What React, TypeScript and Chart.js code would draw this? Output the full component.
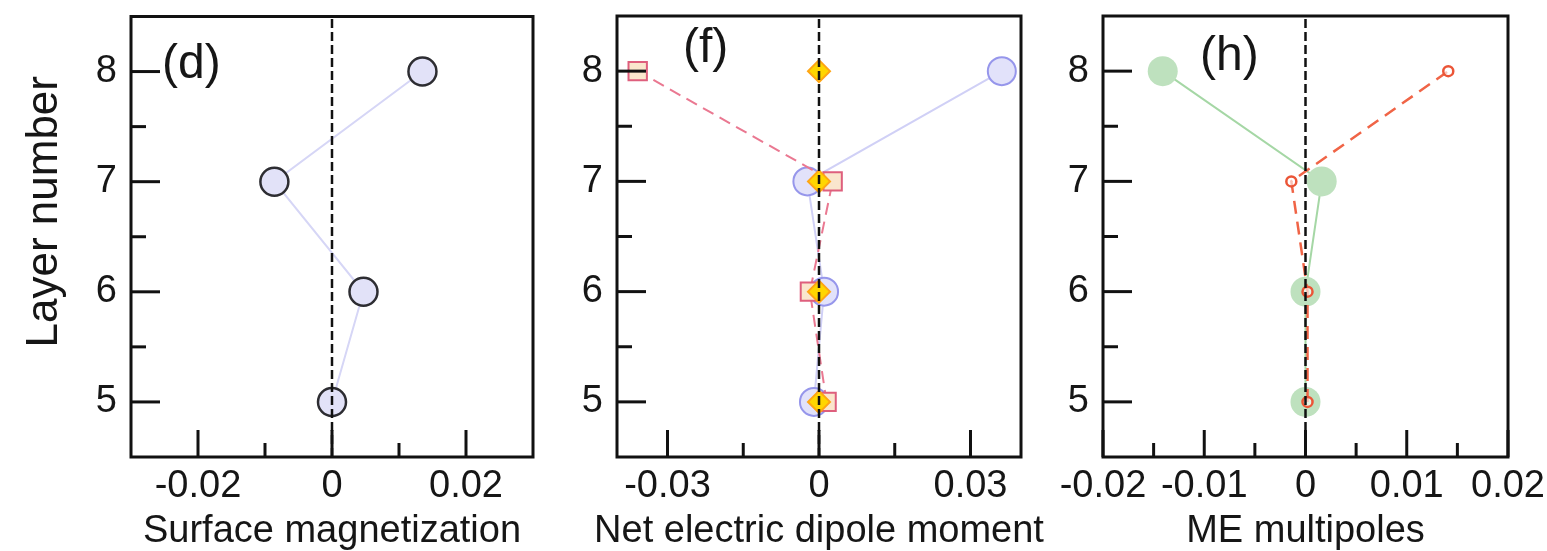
import React, { useEffect, useRef } from "react";
import { Chart, registerables } from "chart.js";

Chart.register(...registerables);

const FONT = '"Liberation Sans", Arial, Helvetica, sans-serif';
const TEXT = "#161616";

// ---- shared y axis (layer number) ----
const layers = [5, 6, 7, 8];
const yMin = 4.5;
const yMax = 8.5;
const yTickValues = [5, 6, 7, 8];
const yMinorTicks = [5.5, 6.5, 7.5];
const yTitle = "Layer number";

// zero reference line
const zeroLineX = [0, 0];
const zeroLineY = [yMin, yMax];

// ---- panel (d) ----
const surfaceMagnetization = [0.0, 0.0047, -0.0086, 0.0135];
const dXRange = [-0.03, 0.03];
const dXTickValues = [-0.02, 0, 0.02];
const dXMinorTicks = [-0.01, 0.01];

// ---- panel (f) ----
const dipoleCircles = [-0.001, 0.001, -0.0023, 0.0362];
const dipoleSquares = [0.0015, -0.0018, 0.0027, -0.0359];
const dipoleDiamonds = [0, 0, 0, 0];
const fXRange = [-0.04, 0.04];
const fXTickValues = [-0.03, 0, 0.03];
const fXMinorTicks = [-0.015, 0.015];

// ---- panel (h) ----
const meGreen = [0, 0, 0.0016, -0.0141];
const meRed = [0.0002, 0.0002, -0.0014, 0.0141];
const hXRange = [-0.02, 0.02];
const hXTickValues = [-0.02, -0.01, 0, 0.01, 0.02];
const hXMinorTicks = [-0.015, -0.005, 0.005, 0.015];

const pts = (xs: number[]) => xs.map((x, i) => ({ x, y: layers[i] }));
const fmt = (v: number) => {
  const r = Math.round(v * 10000) / 10000;
  return r === 0 ? "0" : String(r);
};

const zeroDataset = () => ({
  data: zeroLineX.map((x, i) => ({ x, y: zeroLineY[i] })),
  showLine: true,
  borderColor: "#111",
  borderWidth: 2.5,
  borderDash: [9, 4],
  pointRadius: 0,
});

type Panel = {
  left: number;
  width: number;
  yAxisWidth: number;
  padRight: number;
  xRange: number[];
  xTicks: number[];
  xMinor: number[];
  label: string;
  labelDx: number;
  labelDy: number;
  xTitle: string;
  yTitle?: string;
  datasets: any[];
};

const panels: Panel[] = [
  {
    left: 0,
    width: 560,
    yAxisWidth: 131,
    padRight: 27,
    xRange: dXRange,
    xTicks: dXTickValues,
    xMinor: dXMinorTicks,
    label: "(d)",
    labelDx: 31,
    labelDy: 61,
    xTitle: "Surface magnetization",
    yTitle,
    datasets: [
      zeroDataset(),
      {
        data: pts(surfaceMagnetization),
        showLine: true,
        borderColor: "rgb(214,214,246)",
        borderWidth: 2,
        pointStyle: "circle",
        pointRadius: 14,
        pointBackgroundColor: "rgb(226,226,248)",
        pointBorderColor: "rgb(45,45,50)",
        pointBorderWidth: 2.5,
      },
    ],
  },
  {
    left: 540,
    width: 520,
    yAxisWidth: 77,
    padRight: 39,
    xRange: fXRange,
    xTicks: fXTickValues,
    xMinor: fXMinorTicks,
    label: "(f)",
    labelDx: 66,
    labelDy: 46,
    xTitle: "Net electric dipole moment",
    datasets: [
      zeroDataset(),
      {
        data: pts(dipoleDiamonds),
        showLine: false,
        pointStyle: "rectRot",
        pointRadius: 11,
        pointBackgroundColor: "rgb(255,214,0)",
        pointBorderColor: "rgb(255,165,20)",
        pointBorderWidth: 2,
      },
      {
        data: pts(dipoleSquares),
        showLine: true,
        borderColor: "rgb(234,120,145)",
        borderWidth: 2,
        borderDash: [12, 7],
        pointStyle: "rect",
        pointRadius: 13,
        pointBackgroundColor: "rgb(250,230,205)",
        pointBorderColor: "rgb(222,95,125)",
        pointBorderWidth: 2,
      },
      {
        data: pts(dipoleCircles),
        showLine: true,
        borderColor: "rgb(208,208,246)",
        borderWidth: 2,
        pointStyle: "circle",
        pointRadius: 14,
        pointBackgroundColor: "rgb(226,226,250)",
        pointBorderColor: "rgb(150,150,235)",
        pointBorderWidth: 2,
      },
    ],
  },
  {
    left: 1030,
    width: 560,
    yAxisWidth: 73,
    padRight: 82,
    xRange: hXRange,
    xTicks: hXTickValues,
    xMinor: hXMinorTicks,
    label: "(h)",
    labelDx: 97,
    labelDy: 54,
    xTitle: "ME multipoles",
    datasets: [
      zeroDataset(),
      {
        data: pts(meRed),
        showLine: true,
        borderColor: "rgb(240,100,70)",
        borderWidth: 2.5,
        borderDash: [13, 8],
        pointStyle: "circle",
        pointRadius: 5,
        pointBackgroundColor: "rgba(255,255,255,0.6)",
        pointBorderColor: "rgb(235,85,55)",
        pointBorderWidth: 2.5,
      },
      {
        data: pts(meGreen),
        showLine: true,
        borderColor: "rgb(165,215,165)",
        borderWidth: 2,
        pointStyle: "circle",
        pointRadius: 15,
        pointBackgroundColor: "rgb(190,225,190)",
        pointBorderColor: "rgb(190,225,190)",
        pointBorderWidth: 0,
      },
    ],
  },
];

const decorPlugin = (p: Panel) => ({
  id: "decor",
  afterDatasetsDraw(chart: any) {
    const { ctx, chartArea: a, scales } = chart;
    const xs = scales.x;
    const ys = scales.y;
    ctx.save();
    ctx.setLineDash([]);
    ctx.strokeStyle = "#111";
    ctx.lineWidth = 3;
    ctx.lineCap = "butt";
    const xTick = (v: number, len: number) => {
      const px = xs.getPixelForValue(v);
      ctx.beginPath();
      ctx.moveTo(px, a.bottom);
      ctx.lineTo(px, a.bottom - len);
      ctx.stroke();
    };
    const yTick = (v: number, len: number) => {
      const py = ys.getPixelForValue(v);
      ctx.beginPath();
      ctx.moveTo(a.left, py);
      ctx.lineTo(a.left + len, py);
      ctx.stroke();
    };
    p.xTicks.forEach((v) => xTick(v, 27));
    p.xMinor.forEach((v) => xTick(v, 14));
    yTickValues.forEach((v) => yTick(v, 29));
    yMinorTicks.forEach((v) => yTick(v, 15));
    ctx.strokeRect(a.left, a.top, a.right - a.left, a.bottom - a.top);

    ctx.fillStyle = TEXT;
    ctx.textBaseline = "alphabetic";
    ctx.textAlign = "left";
    ctx.font = `48px ${FONT}`;
    ctx.fillText(p.label, a.left + p.labelDx, a.top + p.labelDy);

    ctx.textAlign = "center";
    ctx.font = `38px ${FONT}`;
    ctx.fillText(p.xTitle, (a.left + a.right) / 2, a.bottom + 85);

    if (p.yTitle) {
      ctx.translate(a.left - 74, (a.top + a.bottom) / 2 - 25);
      ctx.rotate(-Math.PI / 2);
      ctx.font = `44px ${FONT}`;
      ctx.fillText(p.yTitle, 0, 0);
    }
    ctx.restore();
  },
});

const zeroPad = (s: any) => {
  s.paddingTop = 0;
  s.paddingBottom = 0;
  s.paddingLeft = 0;
  s.paddingRight = 0;
};

export default function App() {
  const refs = useRef<(HTMLCanvasElement | null)[]>([]);

  useEffect(() => {
    const charts = panels.map((p, i) => {
      const canvas = refs.current[i] as HTMLCanvasElement;
      return new Chart(canvas, {
        type: "scatter",
        data: { datasets: p.datasets.map((d) => ({ ...d, tension: 0 })) },
        options: {
          animation: false,
          responsive: false,
          events: [],
          layout: { padding: { left: 0, right: p.padRight, top: 16, bottom: 0 } },
          plugins: { legend: { display: false }, tooltip: { enabled: false } },
          scales: {
            x: {
              type: "linear",
              min: p.xRange[0],
              max: p.xRange[1],
              afterBuildTicks: (s: any) => {
                s.ticks = p.xTicks.map((v) => ({ value: v }));
              },
              afterFit: (s: any) => {
                s.height = 94;
                zeroPad(s);
              },
              ticks: {
                callback: (v: any) => fmt(Number(v)),
                font: { family: FONT, size: 38 },
                color: TEXT,
                padding: 7,
                maxRotation: 0,
                autoSkip: false,
              },
              grid: { display: false, drawTicks: false },
              border: { display: false },
            },
            y: {
              type: "linear",
              min: yMin,
              max: yMax,
              afterBuildTicks: (s: any) => {
                s.ticks = yTickValues.map((v) => ({ value: v }));
              },
              afterFit: (s: any) => {
                s.width = p.yAxisWidth;
                zeroPad(s);
              },
              ticks: {
                callback: (v: any) => String(v),
                font: { family: FONT, size: 38 },
                color: TEXT,
                padding: 14,
                autoSkip: false,
              },
              grid: { display: false, drawTicks: false },
              border: { display: false },
            },
          },
        },
        plugins: [decorPlugin(p)],
      } as any);
    });
    return () => charts.forEach((c) => c.destroy());
  }, []);

  return (
    <div
      style={{
        position: "fixed",
        left: 0,
        top: 0,
        width: 1547,
        height: 551,
        overflow: "hidden",
        background: "#fff",
      }}
    >
      {panels.map((p, i) => (
        <canvas
          key={i}
          ref={(el) => {
            refs.current[i] = el;
          }}
          width={p.width}
          height={551}
          style={{ position: "absolute", left: p.left, top: 0, width: p.width, height: 551 }}
        />
      ))}
    </div>
  );
}
